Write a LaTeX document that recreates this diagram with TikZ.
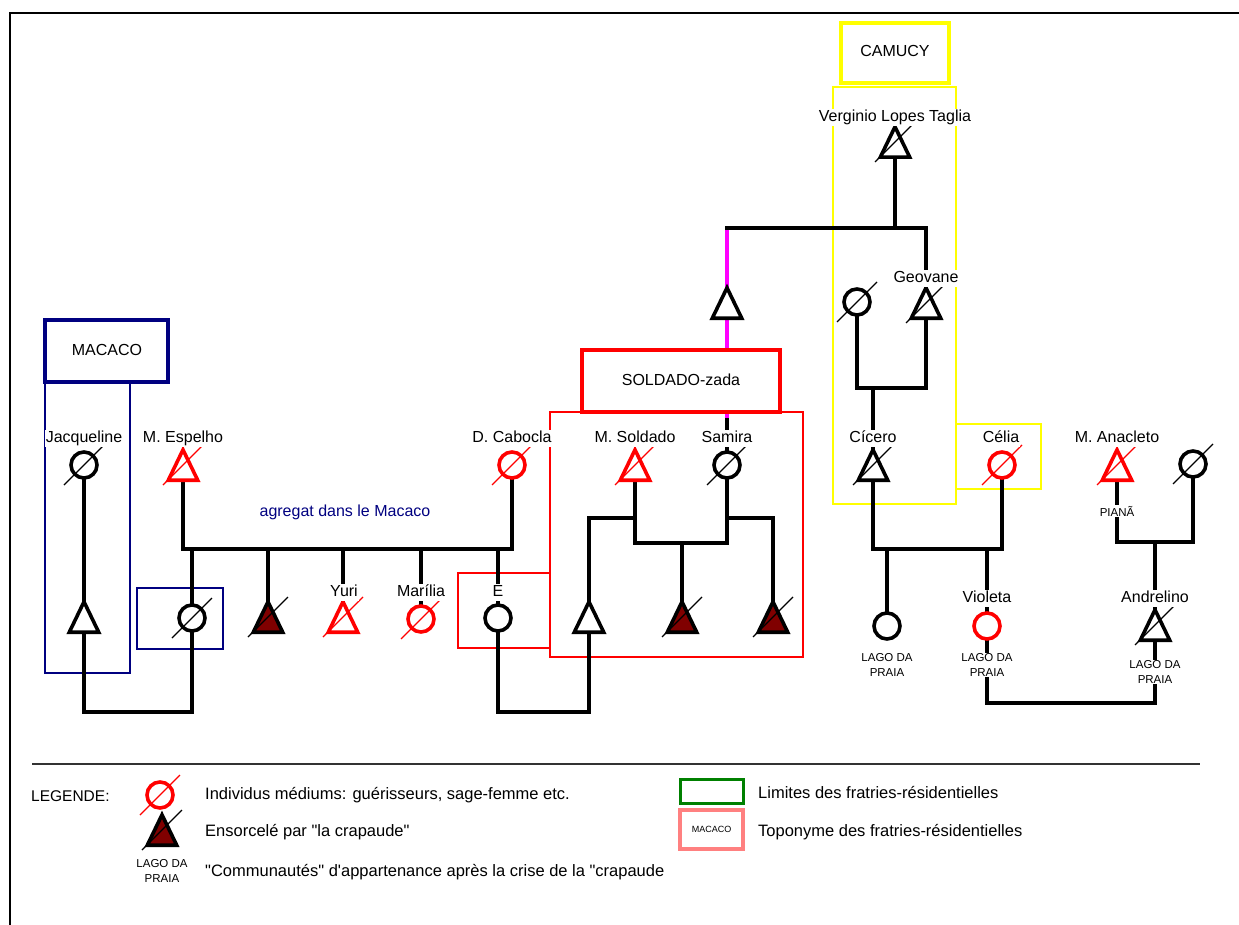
\documentclass[tikz,border=0pt]{standalone}
\usepackage{fontspec}
\setmainfont{Liberation Sans}[Ligatures=TeXOff]
\definecolor{navyb}{RGB}{0,0,128}
\definecolor{ensor}{RGB}{128,0,0}
\definecolor{pinkb}{RGB}{255,128,128}
\definecolor{greenb}{RGB}{0,128,0}
\definecolor{yel}{RGB}{255,255,0}
\definecolor{mag}{RGB}{255,0,255}
\tikzset{
 kin/.style={line width=3.6pt, line cap=rect, line join=miter},
 symline/.style={line width=3.6pt, line join=miter},
 tnode/.style={minimum width=29pt, minimum height=30pt, inner sep=0pt},
 cnode/.style={circle, minimum size=26pt, inner sep=0pt},
 bp/.style={draw=black, fill=white},
 rp/.style={draw=red, fill=white},
 brp/.style={draw=black, fill=ensor},
 lab/.style={fill=white, inner sep=1pt, font=\fontsize{16}{19}\selectfont, text height=11.5pt, text depth=3.5pt},
 smalllab/.style={fill=white, inner sep=0.5pt, font=\fontsize{11.5}{15}\selectfont, align=center},
 thinbox/.style={line width=2.2pt},
 thickbox/.style={line width=3.6pt},
 boxlab/.style={font=\fontsize{16}{19}\selectfont, inner sep=0pt, text height=11.5pt, text depth=3.5pt},
 legtext/.style={anchor=west, font=\fontsize{16.5}{19}\selectfont, inner sep=0pt, text height=11.5pt, text depth=3.5pt},
}
\newcommand\ptri[2]{\draw[symline,#2] (#1.south west) -- (#1.north) -- (#1.south east) -- cycle;}
\newcommand\pcirc[2]{\draw[symline,#2] (#1.center) circle[radius=13pt];}
\newcommand\pslash[2]{\draw[line width=1.1pt,#2] ([shift={(-20,20)}]#1.center) -- ([shift={(20,-20)}]#1.center);}
\begin{document}
\begin{tikzpicture}[x=1pt,y=-1pt]
\useasboundingbox (0,0) rectangle (1239,925);
% frame
\draw[line width=2.5pt] (10,925) -- (10,13) -- (1239,13);

% ---- boxes (background) ----
\draw[navyb, thickbox, fill=white] (45,320) rectangle (168,382);
\node[boxlab] (tmac) at (107,351) {MACACO};
\draw[navyb, thinbox] (45,382) rectangle (130,673);
\draw[navyb, thinbox] (137,588) rectangle (223,649);

\draw[red, thinbox] (550,412) rectangle (803,657);
\draw[red, thinbox] (458,573) rectangle (550,648);

\draw[yel, thickbox, fill=white] (841,23) rectangle (949,83);
\node[boxlab] (tcam) at (895,53) {CAMUCY};
\draw[yel, thinbox] (833,87) rectangle (956,504);
\draw[yel, thinbox] (956,424) rectangle (1041,489);

% ---- person nodes (invisible, drawn later) ----
\node[tnode] (verg) at (895,142) {};
\node[tnode] (unk) at (727,303) {};
\node[cnode] (leftc) at (857,302) {};
\node[tnode] (geo) at (926,303) {};

\node[cnode] (jac) at (84,465) {};
\node[tnode] (esp) at (183,465) {};
\node[cnode] (cab) at (512,465) {};
\node[tnode] (sol) at (635,465) {};
\node[cnode] (sam) at (727,465) {};
\node[tnode] (cic) at (873,465) {};
\node[cnode] (cel) at (1002,465) {};
\node[tnode] (ana) at (1117,465) {};
\node[cnode] (anaw) at (1193,464) {};

\node[tnode] (tJ) at (84,617) {};
\node[cnode] (c1) at (192,618) {};
\node[tnode] (t1) at (268,617) {};
\node[tnode] (yuri) at (343,617) {};
\node[cnode] (mar) at (421,619) {};
\node[cnode] (ec) at (498,618) {};
\node[tnode] (tS) at (589,617) {};
\node[tnode] (t2) at (682,617) {};
\node[tnode] (t3) at (773,617) {};
\node[cnode] (lc) at (887,626) {};
\node[cnode] (vio) at (987,626) {};
\node[tnode] (and) at (1155,625) {};

% ---- coordinates ----
\coordinate (b1L) at (727,228); \coordinate (b1R) at (926,228);
\coordinate (magEnd) at (727,420);
\coordinate (g1a) at (857,388); \coordinate (g1b) at (926,388); \coordinate (g1m) at (873,388);
\coordinate (agL) at (183,549); \coordinate (agR) at (512,549);
\coordinate (jb1) at (84,712); \coordinate (jb2) at (192,712);
\coordinate (eb1) at (498,712); \coordinate (eb2) at (589,712);
\coordinate (sb1) at (635,543); \coordinate (sb2) at (727,543);
\coordinate (sl1) at (635,518); \coordinate (sl2) at (589,518);
\coordinate (sr1) at (727,518); \coordinate (sr2) at (773,518);
\coordinate (cb1) at (873,549); \coordinate (cb2) at (1002,549);
\coordinate (vb1) at (987,703); \coordinate (vb2) at (1155,703);
\coordinate (ab1) at (1117,542); \coordinate (ab2) at (1193,542);

% ---- connectors ----
\draw[kin, mag] (b1L) -- (unk.north);
\draw[kin, mag] (unk.south) -- (magEnd);
\draw[kin] (magEnd) -- (sam.north);
\draw[kin] (verg.south) -- (verg.south |- b1L);
\draw[kin] (b1L) -- (b1R) -- (geo.north);

\draw[kin] (leftc.south) -- (g1a) -- (g1b) -- (geo.south);
\draw[kin] (g1m) -- (cic.north);

\draw[kin] (esp.south) -- (agL) -- (agR) -- (cab.south);
\draw[kin] (c1.north) -- (c1 |- agL);
\draw[kin] (t1.north) -- (t1 |- agL);
\draw[kin] (yuri.north) -- (yuri |- agL);
\draw[kin] (mar.north) -- (mar |- agL);
\draw[kin] (ec.north) -- (ec |- agL);

\draw[kin] (jac.south) -- (tJ.north);
\draw[kin] (tJ.south) -- (jb1) -- (jb2) -- (c1.south);
\draw[kin] (ec.south) -- (eb1) -- (eb2) -- (tS.south);

\draw[kin] (sol.south) -- (sb1) -- (sb2) -- (sam.south);
\draw[kin] (t2.north) -- (t2 |- sb1);
\draw[kin] (sl1) -- (sl2) -- (tS.north);
\draw[kin] (sr1) -- (sr2) -- (t3.north);

\draw[kin] (cic.south) -- (cb1) -- (cb2) -- (cel.south);
\draw[kin] (lc.north) -- (lc |- cb1);
\draw[kin] (vio.north) -- (vio |- cb1);
\draw[kin] (vio.south) -- (vb1) -- (vb2) -- (and.south);

\draw[kin] (ana.south) -- (ab1) -- (ab2) -- (anaw.south);
\draw[kin] (and.north) -- (and |- ab1);

% SOLDADO box drawn over the magenta line
\draw[red, thickbox, fill=white] (582,350) rectangle (780,412);
\node[boxlab] (tsol) at (681,381) {SOLDADO-zada};

% ---- symbols ----
\ptri{verg}{bp} \pslash{verg}{black}
\ptri{unk}{bp}
\pcirc{leftc}{bp} \pslash{leftc}{black}
\ptri{geo}{bp} \pslash{geo}{black}

\pcirc{jac}{bp} \pslash{jac}{black}
\ptri{esp}{rp} \pslash{esp}{red}
\pcirc{cab}{rp} \pslash{cab}{red}
\ptri{sol}{rp} \pslash{sol}{red}
\pcirc{sam}{bp} \pslash{sam}{black}
\ptri{cic}{bp} \pslash{cic}{black}
\pcirc{cel}{rp} \pslash{cel}{red}
\ptri{ana}{rp} \pslash{ana}{red}
\pcirc{anaw}{bp} \pslash{anaw}{black}

\ptri{tJ}{bp}
\pcirc{c1}{bp} \pslash{c1}{black}
\ptri{t1}{brp} \pslash{t1}{black}
\ptri{yuri}{rp} \pslash{yuri}{red}
\pcirc{mar}{rp} \pslash{mar}{red}
\pcirc{ec}{bp}
\ptri{tS}{bp}
\ptri{t2}{brp} \pslash{t2}{black}
\ptri{t3}{brp} \pslash{t3}{black}
\pcirc{lc}{bp}
\pcirc{vio}{rp}
\ptri{and}{bp} \pslash{and}{black}

% ---- labels ----
\node[lab] (lverg) at (895,118) {Verginio Lopes Taglia};
\node[lab] (lgeo) at (926,279) {Geovane};
\node[lab] (ljac) at (84,438) {Jacqueline};
\node[lab] (lesp) at (183,438) {M. Espelho};
\node[lab] (lcab) at (512,438) {D. Cabocla};
\node[lab] (lsol) at (635,438) {M. Soldado};
\node[lab] (lsam) at (727,438) {Samira};
\node[lab] (lcic) at (873,438) {Cícero};
\node[lab] (lcel) at (1001,438) {Célia};
\node[lab] (lana) at (1117,438) {M. Anacleto};
\node[lab] (lyuri) at (344,592) {Yuri};
\node[lab] (lmar) at (421,592) {Marília};
\node[lab] (le) at (498,592) {E};
\node[lab] (lvio) at (987,598) {Violeta};
\node[lab] (land) at (1155,598) {Andrelino};
\node[lab, text=navyb, fill=none] (lagr) at (345,512) {agregat dans le Macaco};
\node[smalllab] (pia) at (1117,511) {PIANÃ};
\node[smalllab] (lago1) at (887,665) {LAGO DA\\PRAIA};
\node[smalllab] (lago2) at (987,665) {LAGO DA\\PRAIA};
\node[smalllab] (lago3) at (1155,672) {LAGO DA\\PRAIA};

% ---- legend ----
\draw[line width=1.5pt, black!80] (32,764) -- (1200,764);
\node[legtext, font=\fontsize{15.5}{18}\selectfont] (legt) at (31,797) {LEGENDE:};
\node[cnode] (legc) at (160,795) {};
\pcirc{legc}{rp} \pslash{legc}{red}
\node[tnode] (legtr) at (162,830) {};
\ptri{legtr}{brp} \pslash{legtr}{black}
\node[smalllab] (leglago) at (162,871) {LAGO DA\\PRAIA};
\node[legtext] (lt1) at (205,795) {Individus médiums: guérisseurs, sage-femme etc.};
\node[legtext] (lt2) at (205,832) {Ensorcelé par "la crapaude"};
\node[legtext] (lt3) at (205,872) {"Communautés" d'appartenance après la crise de la "crapaude};
\draw[greenb, line width=3pt] (680,779) rectangle (743,803);
\node[legtext] (lt4) at (758,794) {Limites des fratries-résidentielles};
\draw[pinkb, line width=3.6pt] (680,810) rectangle (743,849);
\node[font=\fontsize{9}{11}\selectfont, inner sep=0pt] (legmac) at (711.5,829.5) {MACACO};
\node[legtext] (lt5) at (758,832) {Toponyme des fratries-résidentielles};
\end{tikzpicture}
\end{document}
